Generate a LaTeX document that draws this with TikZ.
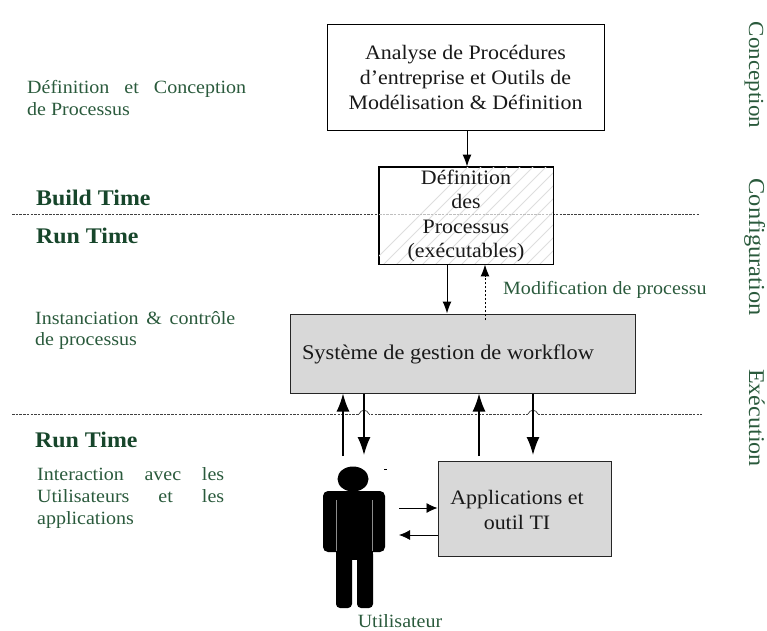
\documentclass[tikz,border=0pt]{standalone}
\usepackage{fontspec}
\setmainfont[FakeStretch=1.07]{Liberation Serif}
\usetikzlibrary{arrows.meta}
\definecolor{grn}{HTML}{2A5A3C}
\definecolor{grnb}{HTML}{17462B}
\definecolor{boxg}{HTML}{D8D8D8}
\definecolor{hatchc}{HTML}{DEDEDE}
\tikzset{
 x=1pt,y=-1pt,
 whitebox/.style={draw=black,line width=.9pt,fill=white,inner sep=0pt,align=center},
 greybox/.style={draw=black!85,line width=1pt,fill=boxg,inner sep=0pt},
 bt/.style={font=\fontsize{20.5}{24.5}\selectfont,text=black!90,align=center,inner sep=0pt},
 note/.style={font=\fontsize{18.7}{21.7}\selectfont,text=grn,anchor=north west,inner sep=0pt},
 head/.style={font=\bfseries\fontsize{22.3}{24}\selectfont,text=grnb,anchor=west,inner sep=0pt},
 sidetxt/.style={text=grn,rotate=-90,anchor=base,inner sep=0pt},
 sep/.style={draw=black!75,line width=.7pt,dash pattern=on 2.5pt off 1.2pt},
 arr/.style={draw=black,line width=1pt,-{Latex[length=12pt,width=9pt]}},
 arrb/.style={draw=black,line width=1.5pt,-{Latex[length=18pt,width=13pt]}},
 arrs/.style={draw=black,line width=.8pt,-{Latex[length=11pt,width=10pt]}},
 body/.style={fill=black,draw=none},
}
\begin{document}
\begin{tikzpicture}
\useasboundingbox (0,0) rectangle (767,630);
% separators
\coordinate (s1a) at (12,214); \coordinate (s1b) at (700,214);
\coordinate (s2a) at (12,414); \coordinate (s2b) at (702,414);
\draw[sep] (s1a) -- (s1b);
\draw[sep] (s2a) -- (s2b);
% boxes
\node[whitebox,minimum width=277pt,minimum height=106pt] (ana) at (465.5,77) {};
\node[bt,font=\fontsize{20.5}{25}\selectfont] (anatxt) at (ana.center) {Analyse de Procédures\\d’entreprise et Outils de\\Modélisation \& Définition};
\node[whitebox,minimum width=174pt,minimum height=97pt] (def) at (466,215.5) {};
\begin{scope}
\clip (379,167) rectangle (553,264);
\foreach \i in {0,...,24} {\draw[hatchc,line width=.8pt] (360+\i*13,275) -- (360+\i*13+120,155);}
\end{scope}
\draw[black!25,line width=.7pt,dash pattern=on 2.5pt off 1.2pt] (379,214) -- (553,214);
\draw[black,line width=.9pt] (def.north west) rectangle (def.south east);
\node[bt,font=\fontsize{20.5}{24.5}\selectfont] (deftxt) at (466,216) {Définition\\des\\Processus\\(exécutables)};
\node[greybox,minimum width=345pt,minimum height=79pt] (sys) at (462.5,353.5) {};
\node[bt,font=\fontsize{20.9}{25}\selectfont] (systxt) at (448,354) {Système de gestion de workflow};
\node[greybox,minimum width=173pt,minimum height=95pt] (app) at (524.5,508.5) {};
\node[bt] (apptxt) at (517,510) {Applications et\\outil TI};
% connectors
\coordinate (a1) at (467,130);
\draw[arr] (ana.south -| a1) -- (def.north -| a1);
\coordinate (d1) at (447,264);
\draw[arr] (def.south -| d1) -- (sys.north -| d1);
\coordinate (m1) at (485,320);
\draw[arr,dash pattern=on 2.5pt off 1.5pt] (m1) -- (def.south -| m1);
\coordinate (u1) at (343,456); \coordinate (u2) at (364,455);
\coordinate (u3) at (479,456); \coordinate (u4) at (533,455);
% hops
\fill[white] (359,411) rectangle (369,416);
\fill[white] (528,411) rectangle (538,416);
\draw[black!75,line width=.7pt] (359,414) .. controls (361,409) and (367,409) .. (369,414);
\draw[black!75,line width=.7pt] (528,414) .. controls (530,409) and (536,409) .. (538,414);
\draw[arrb] (u1) -- (sys.south -| u1);
\draw[arrb] (sys.south -| u2) -- (u2);
\draw[arrb] (u3) -- (sys.south -| u3);
\draw[arrb] (sys.south -| u4) -- (u4);
% person
\fill[body] (353,479) ellipse [x radius=15.5pt,y radius=12.5pt];
\fill[body,rounded corners=5pt] (323,491) rectangle (385,552);
\fill[body] (336,545) rectangle (373,560);
\fill[body,rounded corners=4pt] (336,550) rectangle (352,608);
\fill[body,rounded corners=4pt] (357,550) rectangle (373,608);
\draw[black!45,line width=.4pt] (336,500) -- (336,551) (372.5,500) -- (372.5,551);
\fill[black] (384,468.5) rectangle (387,469.8);
\coordinate (h1) at (399,508); \coordinate (h2) at (399,535);
\draw[arrs] (h1) -- (app.west |- h1);
\draw[arrs] (app.west |- h2) -- (h2);
% labels
\node[note,text width=219pt,align=justify] (n1) at (27,80) {Définition et Conception\linebreak de Processus};
\node[note,text width=200pt,align=justify] (n2) at (35,311) {Instanciation \& contrôle\linebreak de processus};
\node[note,text width=187pt,align=justify] (n3) at (37,467.5) {Interaction avec les\linebreak Utilisateurs et les\linebreak applications};
\node[head] (hb) at (36,198) {Build Time};
\node[head] (hr1) at (36,236) {Run Time};
\node[head] (hr2) at (35,440) {Run Time};
\node[note,anchor=west] (mod) at (503,290) {Modification de processu};
\node[note,anchor=center] (ut) at (400,621) {Utilisateur};
\node[sidetxt,font=\fontsize{21.5}{24}\selectfont] (c1) at (749,75) {Conception};
\node[sidetxt,font=\fontsize{22.8}{24}\selectfont] (c2) at (749,247) {Configuration};
\node[sidetxt,font=\fontsize{22.5}{24}\selectfont] (c3) at (749,418) {Exécution};
\end{tikzpicture}
\end{document}
